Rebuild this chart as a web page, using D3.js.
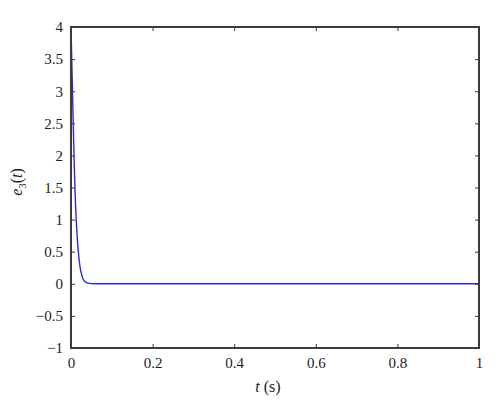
<!DOCTYPE html>
<html><head><meta charset="utf-8">
<script src="https://cdn.jsdelivr.net/npm/d3@7/dist/d3.min.js"></script>
<style>body{margin:0;background:#fff}svg{display:block}
text{font-family:"Liberation Serif","Times New Roman",Times,serif}</style>
</head><body>
<svg id="c" width="500" height="414"></svg>
<script>
const tValues = [0, 0.002, 0.004, 0.006, 0.008, 0.010, 0.012, 0.014, 0.016, 0.018, 0.020, 0.022, 0.025, 0.028, 0.032, 0.037, 0.042, 0.05, 0.06, 0.2, 0.5, 1];
const e3Values = [4, 3.45, 2.9, 2.35, 1.85, 1.42, 1.1, 0.85, 0.65, 0.5, 0.37, 0.27, 0.17, 0.1, 0.05, 0.022, 0.01, 0.002, 0, 0, 0, 0];
const xTicks = [0, 0.2, 0.4, 0.6, 0.8, 1];
const yTicks = [-1, -0.5, 0, 0.5, 1, 1.5, 2, 2.5, 3, 3.5, 4];

const svg = d3.select("#c");
const L = 71, R = 479, T = 27, B = 348;
const x = d3.scaleLinear().domain([0, 1]).range([L, R]);
const y = d3.scaleLinear().domain([-1, 4]).range([B, T]);
const fmt = d => (d < 0 ? "\u2212" : "") + String(Math.abs(d));
const axisColor = "#3a3a3a";

// line
const data = tValues.map((t, i) => ({t, v: e3Values[i]}));
svg.append("path").datum(data)
  .attr("fill", "none").attr("stroke", "#2a2ad6").attr("stroke-width", 1.4)
  .attr("d", d3.line().x(d => x(d.t)).y(d => y(d.v)).curve(d3.curveMonotoneX));

// axes
function styleAxis(g) {
  g.selectAll(".domain").remove();
  g.selectAll(".tick line").attr("stroke", axisColor).attr("stroke-width", 1);
  g.selectAll(".tick text").attr("font-size", 15).attr("fill", "#222");
}
const gx = svg.append("g").attr("transform", `translate(0,${B})`)
  .call(d3.axisBottom(x).tickValues(xTicks).tickFormat(fmt).tickSizeInner(-4).tickSizeOuter(0).tickPadding(9));
styleAxis(gx);
const gxt = svg.append("g").attr("transform", `translate(0,${T})`)
  .call(d3.axisTop(x).tickValues(xTicks).tickFormat("").tickSizeInner(-4).tickSizeOuter(0));
styleAxis(gxt);
const gy = svg.append("g").attr("transform", `translate(${L},0)`)
  .call(d3.axisLeft(y).tickValues(yTicks).tickFormat(fmt).tickSizeInner(-4).tickSizeOuter(0).tickPadding(8));
styleAxis(gy);
const gyr = svg.append("g").attr("transform", `translate(${R},0)`)
  .call(d3.axisRight(y).tickValues(yTicks).tickFormat("").tickSizeInner(-4).tickSizeOuter(0));
styleAxis(gyr);

// box
svg.append("rect").attr("x", L).attr("y", T).attr("width", R - L).attr("height", B - T)
  .attr("fill", "none").attr("stroke", axisColor).attr("stroke-width", 2);

// labels
const xl = svg.append("text").attr("x", 268).attr("y", 392).attr("text-anchor", "middle")
  .attr("font-size", 16).attr("fill", "#222");
xl.append("tspan").attr("font-style", "italic").text("t");
xl.append("tspan").text(" (s)");

const yl = svg.append("text").attr("transform", "translate(22,182) rotate(-90)").attr("text-anchor", "middle")
  .attr("font-size", 16).attr("fill", "#222");
yl.append("tspan").attr("font-style", "italic").text("e");
yl.append("tspan").attr("font-size", 11).attr("dy", 4).text("3");
yl.append("tspan").attr("dy", -4).text("(");
yl.append("tspan").attr("font-style", "italic").text("t");
yl.append("tspan").text(")");
</script>
</body></html>
